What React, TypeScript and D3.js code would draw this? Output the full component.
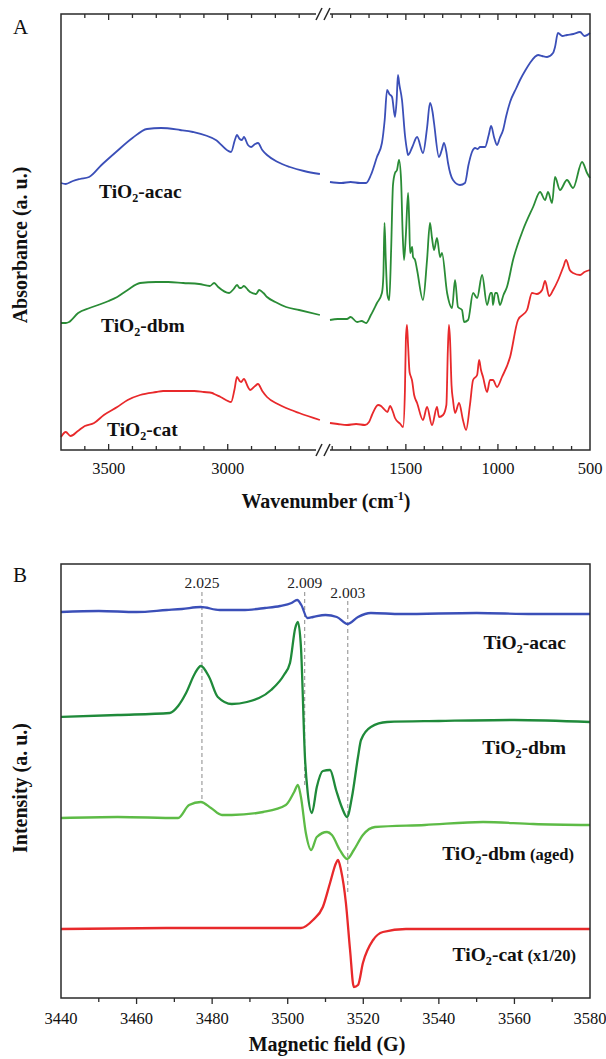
import React from "react";
import * as d3 from "d3";

// ---------- Panel A: FTIR (wavenumber cm-1, absorbance a.u.) ----------
const ftirAcacLeft: [number, number][] = [
  [3700, 267], [3680, 266], [3650, 269], [3620, 271], [3582, 273], [3530, 285], [3469, 298], [3400, 312],
  [3339, 321], [3280, 322], [3200, 320], [3146, 318], [3050, 310], [2986, 298], [2970, 310], [2961, 315],
  [2950, 311], [2940, 310], [2932, 313], [2915, 305], [2902, 303], [2885, 306], [2873, 307], [2855, 300],
  [2835, 295], [2790, 288], [2739, 283], [2680, 279], [2613, 276],
];
const ftirAcacRight: [number, number][] = [
  [1912, 268], [1850, 267], [1800, 268], [1749, 267], [1716, 267], [1690, 275], [1657, 293], [1630, 307],
  [1615, 330], [1602, 360], [1590, 356], [1575, 353], [1559, 333], [1550, 350], [1543, 375], [1535, 365],
  [1521, 350], [1505, 315], [1494, 300], [1488, 295], [1465, 303], [1439, 313], [1407, 297], [1385, 322],
  [1369, 347], [1355, 338], [1347, 327], [1320, 293], [1305, 300], [1293, 307], [1280, 298], [1271, 287],
  [1244, 270], [1206, 265], [1179, 267], [1160, 285], [1141, 298], [1124, 302], [1110, 301], [1097, 303],
  [1070, 303], [1050, 315], [1037, 324], [1020, 312], [1005, 305], [990, 312], [972, 320], [955, 334],
  [934, 348], [900, 362], [880, 370], [850, 380], [826, 387], [800, 393], [782, 395], [760, 394],
  [733, 393], [701, 397], [690, 403], [674, 417], [650, 414], [625, 415], [590, 416], [554, 418],
  [530, 414], [500, 417],
];
const ftirDbmLeft: [number, number][] = [
  [3700, 127], [3680, 127], [3666, 128], [3628, 137], [3580, 142], [3544, 145], [3500, 149], [3464, 153],
  [3420, 160], [3368, 167], [3300, 168], [3250, 168], [3187, 167], [3120, 166], [3075, 164], [3057, 167],
  [3040, 163], [2994, 157], [2975, 161], [2961, 165], [2950, 162], [2944, 162], [2932, 164], [2915, 160],
  [2906, 158], [2881, 156], [2868, 160], [2850, 157], [2835, 153], [2800, 148], [2755, 143], [2700, 140],
  [2613, 135],
];
const ftirDbmRight: [number, number][] = [
  [1912, 130], [1870, 131], [1820, 131], [1800, 133], [1765, 128], [1740, 129], [1716, 127], [1690, 135],
  [1657, 147], [1630, 157], [1622, 175], [1616, 227], [1609, 190], [1600, 155], [1590, 150], [1580, 200],
  [1570, 265], [1559, 277], [1548, 280], [1537, 290], [1526, 270], [1518, 220], [1510, 190], [1500, 215],
  [1488, 257], [1482, 230], [1477, 197], [1466, 203], [1461, 193], [1450, 190], [1439, 180], [1407, 150],
  [1385, 190], [1369, 227], [1358, 212], [1347, 200], [1331, 212], [1314, 193], [1304, 197], [1276, 157],
  [1249, 142], [1233, 170], [1217, 143], [1195, 140], [1184, 128], [1162, 130], [1135, 157], [1113, 152],
  [1086, 175], [1059, 145], [1040, 157], [1032, 157], [1027, 145], [1015, 157], [1005, 157], [989, 145],
  [970, 155], [951, 163], [918, 190], [864, 220], [809, 243], [771, 258], [744, 250], [728, 258],
  [706, 247], [690, 273], [663, 260], [625, 270], [592, 262], [543, 288], [516, 277], [500, 272],
];
const ftirCatLeft: [number, number][] = [
  [3700, 13], [3680, 18], [3660, 14], [3629, 19], [3600, 24], [3561, 27], [3520, 35], [3464, 43],
  [3420, 50], [3368, 55], [3300, 58], [3271, 59], [3200, 59], [3141, 59], [3100, 58], [3065, 57],
  [3057, 56], [3030, 53], [2986, 48], [2972, 60], [2961, 73], [2950, 69], [2944, 68], [2932, 71],
  [2915, 63], [2906, 60], [2885, 64], [2873, 66], [2855, 59], [2835, 53], [2790, 46], [2755, 42],
  [2700, 37], [2613, 30],
];
const ftirCatRight: [number, number][] = [
  [1912, 27], [1870, 26], [1820, 25], [1770, 26], [1722, 25], [1700, 28], [1684, 35], [1651, 45],
  [1635, 44], [1624, 42], [1600, 38], [1586, 44], [1570, 38], [1559, 32], [1530, 26], [1515, 23],
  [1505, 60], [1500, 110], [1494, 125], [1488, 105], [1480, 78], [1472, 73], [1467, 70], [1455, 55],
  [1439, 47], [1407, 30], [1385, 43], [1358, 25], [1331, 43], [1320, 33], [1298, 35], [1280, 45],
  [1272, 100], [1266, 125], [1260, 110], [1252, 65], [1244, 50], [1233, 37], [1211, 47], [1190, 30],
  [1173, 20], [1152, 45], [1135, 70], [1113, 75], [1102, 90], [1092, 80], [1081, 73], [1059, 58],
  [1043, 70], [1027, 70], [1005, 63], [978, 73], [934, 93], [891, 130], [842, 140], [815, 157],
  [788, 156], [760, 160], [744, 169], [722, 154], [700, 160], [673, 170], [645, 183], [630, 190],
  [610, 180], [592, 177], [554, 175], [530, 178], [500, 180],
];
const ftirLeftDomain = [3700, 2600];
const ftirRightDomain = [1950, 500];
const ftirLeftTickLabels = [3500, 3000];
const ftirRightTickLabels = [1500, 1000, 500];
const ftirMinorStep = 100;

// ---------- Panel B: EPR (magnetic field G, intensity a.u.) ----------
const eprAcac: [number, number][] = [
  [3440, 386], [3450, 387], [3460, 386], [3468, 388], [3472, 389], [3477, 391], [3482, 388], [3488, 388],
  [3494, 390], [3498, 392], [3501, 395], [3502.5, 398], [3503.6, 393], [3505.2, 380], [3506.7, 381],
  [3510, 383], [3513, 381], [3515.9, 374], [3518.6, 381], [3522, 385], [3530, 384], [3550, 385],
  [3565, 384], [3580, 384],
];
const eprDbm: [number, number][] = [
  [3440, 281], [3455, 283], [3468.8, 285], [3471, 292], [3473.1, 305], [3475.5, 325], [3477, 332],
  [3479.2, 321], [3481.5, 301], [3485.2, 294], [3489.2, 296], [3495.6, 308], [3499, 323], [3500.6, 335],
  [3502, 370], [3502.7, 376], [3503.5, 351], [3504.6, 238], [3505.3, 205], [3506.4, 185], [3507.7, 211],
  [3509.3, 227], [3511.2, 228], [3512.8, 208], [3514.4, 190], [3515.7, 181], [3517, 201], [3518.6, 241],
  [3519.4, 258], [3522, 271], [3526.3, 276], [3540, 277], [3560, 278], [3580, 276],
];
const eprDbmAged: [number, number][] = [
  [3440, 180], [3455, 181], [3471, 180], [3473.9, 193], [3477, 196], [3479.7, 190], [3482.6, 183],
  [3485.2, 183], [3493.5, 186], [3499.5, 193], [3501.7, 206], [3502.7, 213], [3503.5, 201], [3504.8, 165],
  [3506.2, 148], [3507.7, 161], [3510.4, 166], [3511.7, 163], [3513.8, 148], [3515.7, 139], [3517.5, 148],
  [3519.9, 163], [3523.1, 171], [3536.3, 173], [3551.7, 176], [3565, 174], [3580, 173],
];
const eprCat: [number, number][] = [
  [3440, 69], [3470, 70], [3500, 70], [3503.5, 70], [3506.7, 78], [3509.3, 91], [3511.2, 115],
  [3512.8, 135], [3513.3, 138], [3514.1, 128], [3515.4, 95], [3516.5, 48], [3517.5, 11], [3518.6, 13],
  [3519.9, 35], [3522.6, 58], [3525.2, 66], [3531.3, 69], [3580, 69],
];
const eprDomain = [3440, 3580];
const eprTickLabels = [3440, 3460, 3480, 3500, 3520, 3540, 3560, 3580];
const gLabels = ["2.025", "2.009", "2.003"];
const gFields = [3477.3, 3504.5, 3515.9];
const gLineTop = [406, 406, 397];
const gLineBottom = [198, 213, 103];
const gLabelLevel = [410, 410, 400];

const FONT = "'Liberation Serif', 'Times New Roman', Times, serif";

type Pt = [number, number];

function TiLabel(props: {
  x: number; y: number; suffix: string; extra?: string; anchor?: "start" | "end"; size?: number;
}) {
  const s = props.size ?? 19.5;
  return (
    <text x={props.x} y={props.y} textAnchor={props.anchor ?? "start"} fontFamily={FONT}
      fontWeight="bold" fontSize={s} fill="#111">
      TiO<tspan fontSize={s * 0.62} dy={4}>2</tspan>
      <tspan dy={-4}>{props.suffix}</tspan>
      {props.extra ? <tspan fontSize={16.5}>{props.extra}</tspan> : null}
    </text>
  );
}

export default function App() {
  // Panel A geometry
  const aL = 61, aR = 590, aT = 14, aB = 450, brk = 323;
  const xL = d3.scaleLinear().domain(ftirLeftDomain).range([aL, brk]);
  const xR = d3.scaleLinear().domain(ftirRightDomain).range([brk, aR]);
  const yA = d3.scaleLinear().domain([0, 436]).range([aB, aT]);

  const lineL = d3.line<Pt>().x((d) => xL(d[0])).y((d) => yA(d[1])).curve(d3.curveMonotoneX);
  const lineR = d3.line<Pt>().x((d) => xR(d[0])).y((d) => yA(d[1])).curve(d3.curveMonotoneX);

  const leftTicks = d3.range(ftirLeftDomain[0] - ftirMinorStep, ftirLeftDomain[1], -ftirMinorStep)
    .filter((v) => Math.abs(xL(v) - brk) > 8);
  const rightTicks = d3.range(ftirRightDomain[0] - 50, ftirRightDomain[1], -ftirMinorStep)
    .map((v) => Math.round(v / 100) * 100)
    .filter((v) => v > ftirRightDomain[1] && Math.abs(xR(v) - brk) > 8);

  const tickA: { x: number; major: boolean }[] = [
    ...leftTicks.map((v) => ({ x: xL(v), major: ftirLeftTickLabels.includes(v) })),
    ...rightTicks.map((v) => ({ x: xR(v), major: ftirRightTickLabels.includes(v) })),
  ];

  // Panel B geometry
  const bL = 61, bR = 590, bT = 564, bB = 998;
  const xB = d3.scaleLinear().domain(eprDomain).range([bL, bR]);
  const yB = d3.scaleLinear().domain([0, 434]).range([bB, bT]);
  const lineB = d3.line<Pt>().x((d) => xB(d[0])).y((d) => yB(d[1])).curve(d3.curveMonotoneX);
  const bTicks = d3.range(eprDomain[0] + 10, eprDomain[1], 10);

  const blue = "#3b4fb8";
  const greenA = "#2a8c36";
  const red = "#e8292b";
  const greenDark = "#1f8a3a";
  const greenLight = "#5dbb46";
  const axisCol = "#2a2a2a";

  const slash = (cx: number, cy: number) => (
    <g>
      <rect x={cx - 7} y={cy - 2} width={14} height={4} fill="#fff" />
      <line x1={cx - 7} y1={cy + 6} x2={cx - 1} y2={cy - 6} stroke={axisCol} strokeWidth={1.5} />
      <line x1={cx + 1} y1={cy + 6} x2={cx + 7} y2={cy - 6} stroke={axisCol} strokeWidth={1.5} />
    </g>
  );

  return (
    <svg width={606} height={1059} viewBox="0 0 606 1059"
      style={{ position: "absolute", left: 0, top: 0, background: "#fff" }}>
      <rect x={0} y={0} width={606} height={1059} fill="#fff" />

      {/* ================= Panel A ================= */}
      <text x={13} y={34} fontFamily={FONT} fontSize={21} fill="#111">A</text>
      <path d={lineL(ftirAcacLeft) ?? ""} fill="none" stroke={blue} strokeWidth={1.8} />
      <path d={lineR(ftirAcacRight) ?? ""} fill="none" stroke={blue} strokeWidth={1.8} />
      <path d={lineL(ftirDbmLeft) ?? ""} fill="none" stroke={greenA} strokeWidth={1.8} />
      <path d={lineR(ftirDbmRight) ?? ""} fill="none" stroke={greenA} strokeWidth={1.8} />
      <path d={lineL(ftirCatLeft) ?? ""} fill="none" stroke={red} strokeWidth={1.8} />
      <path d={lineR(ftirCatRight) ?? ""} fill="none" stroke={red} strokeWidth={1.8} />

      <rect x={aL} y={aT} width={aR - aL} height={aB - aT} fill="none" stroke={axisCol} strokeWidth={1.5} />
      {tickA.map((t, i) => (
        <g key={"ta" + i}>
          <line x1={t.x} x2={t.x} y1={aB} y2={aB - (t.major ? 6 : 4)} stroke={axisCol} strokeWidth={1.3} />
          <line x1={t.x} x2={t.x} y1={aT} y2={aT + (t.major ? 6 : 4)} stroke={axisCol} strokeWidth={1.3} />
        </g>
      ))}
      {slash(brk, aT)}
      {slash(brk, aB)}
      {ftirLeftTickLabels.map((v) => (
        <text key={"la" + v} x={xL(v)} y={473.5} textAnchor="middle" fontFamily={FONT} fontSize={16.5} fill="#111">{v}</text>
      ))}
      {ftirRightTickLabels.map((v) => (
        <text key={"ra" + v} x={xR(v)} y={473.5} textAnchor="middle" fontFamily={FONT} fontSize={16.5} fill="#111">{v}</text>
      ))}
      <text x={326} y={508} textAnchor="middle" fontFamily={FONT} fontSize={20} fontWeight="bold" fill="#111">
        Wavenumber (cm<tspan fontSize={12} dy={-8}>-1</tspan><tspan dy={8}>)</tspan>
      </text>
      <text transform="translate(27,245) rotate(-90)" textAnchor="middle" fontFamily={FONT} fontSize={20}
        fontWeight="bold" fill="#111">Absorbance (a. u.)</text>

      <TiLabel x={99} y={198} suffix="-acac" />
      <TiLabel x={101} y={332} suffix="-dbm" />
      <TiLabel x={107} y={436} suffix="-cat" />

      {/* ================= Panel B ================= */}
      <text x={13} y={582} fontFamily={FONT} fontSize={21} fill="#111">B</text>
      {gFields.map((f, i) => (
        <line key={"gl" + i} x1={xB(f)} x2={xB(f)} y1={yB(gLineTop[i])} y2={yB(gLineBottom[i])}
          stroke="#8a8a8a" strokeWidth={1} strokeDasharray="4,3" />
      ))}
      {gFields.map((f, i) => (
        <text key={"gt" + i} x={xB(f)} y={yB(gLabelLevel[i]) + 0} textAnchor="middle" fontFamily={FONT}
          fontSize={15.5} fill="#222">{gLabels[i]}</text>
      ))}
      <path d={lineB(eprAcac) ?? ""} fill="none" stroke={blue} strokeWidth={2.3} />
      <path d={lineB(eprDbm) ?? ""} fill="none" stroke={greenDark} strokeWidth={2.3} />
      <path d={lineB(eprDbmAged) ?? ""} fill="none" stroke={greenLight} strokeWidth={2.3} />
      <path d={lineB(eprCat) ?? ""} fill="none" stroke={red} strokeWidth={2.3} />

      <rect x={bL} y={bT} width={bR - bL} height={bB - bT} fill="none" stroke={axisCol} strokeWidth={1.5} />
      {bTicks.map((v) => (
        <line key={"tb" + v} x1={xB(v)} x2={xB(v)} y1={bB} y2={bB + (eprTickLabels.includes(v) ? 6 : 4)}
          stroke={axisCol} strokeWidth={1.3} />
      ))}
      {eprTickLabels.map((v) => (
        <text key={"lb" + v} x={xB(v)} y={1023.5} textAnchor="middle" fontFamily={FONT} fontSize={16.5} fill="#111">{v}</text>
      ))}
      <text x={327} y={1051} textAnchor="middle" fontFamily={FONT} fontSize={20} fontWeight="bold" fill="#111">
        Magnetic field (G)
      </text>
      <text transform="translate(27,788) rotate(-90)" textAnchor="middle" fontFamily={FONT} fontSize={20}
        fontWeight="bold" fill="#111">Intensity (a. u.)</text>

      <TiLabel x={566} y={649} suffix="-acac" anchor="end" />
      <TiLabel x={566} y={754} suffix="-dbm" anchor="end" />
      <TiLabel x={574} y={860} suffix="-dbm" extra=" (aged)" anchor="end" />
      <TiLabel x={576} y={961} suffix="-cat" extra="  (x1/20)" anchor="end" />
    </svg>
  );
}
